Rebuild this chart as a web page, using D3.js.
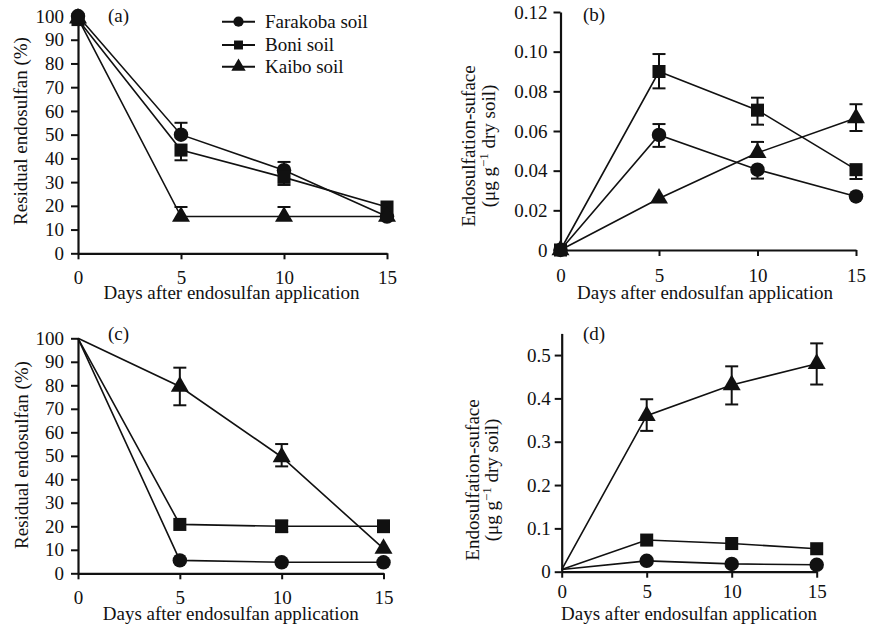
<!DOCTYPE html>
<html>
<head>
<meta charset="utf-8">
<script src="https://cdn.jsdelivr.net/npm/d3@7"></script>
<style>
  body { margin: 0; background: #fff; }
  svg { display: block; }
  text { font-family: "Liberation Serif", "Times New Roman", serif; fill: #111; }
</style>
</head>
<body>
<svg id="chart" width="870" height="628"></svg>
<script>
// ---------------- DATA ----------------
const days = [0, 5, 10, 15];
const seriesNames = ["Farakoba soil", "Boni soil", "Kaibo soil"];
const xTicks = [0, 5, 10, 15];

// Panel (a): residual endosulfan (%)
const aFarakoba = [100, 50, 35, 15.5];
const aFarakobaErrHi = [0, 5, 3.5, 0];
const aFarakobaErrLo = [0, 0, 0, 0];
const aBoni = [98.5, 43.5, 32, 19.5];
const aBoniErrHi = [0, 0, 0, 0];
const aBoniErrLo = [0, 4.3, 3.2, 0];
const aKaibo = [99, 15.5, 15.5, 15.5];
const aKaiboErrHi = [0, 4, 4, 0];
const aKaiboErrLo = [0, 0, 0, 0];
const aYTicks = [0, 10, 20, 30, 40, 50, 60, 70, 80, 90, 100];

// Panel (b): endosulfan-sulfate (µg/g dry soil)
const bFarakoba = [0, 0.058, 0.0405, 0.027];
const bFarakobaErrHi = [0, 0.0055, 0, 0];
const bFarakobaErrLo = [0, 0.006, 0.0045, 0];
const bBoni = [0, 0.09, 0.0705, 0.0405];
const bBoniErrHi = [0, 0.0088, 0.0063, 0];
const bBoniErrLo = [0, 0.0085, 0.0073, 0.0047];
const bKaibo = [0, 0.026, 0.049, 0.0665];
const bKaiboErrHi = [0, 0, 0.0055, 0.007];
const bKaiboErrLo = [0, 0, 0, 0.0065];
const bYTicks = [0, 0.02, 0.04, 0.06, 0.08, 0.10, 0.12];
const bYTickLabels = ["0", "0.02", "0.04", "0.06", "0.08", "0.10", "0.12"];

// Panel (c): residual endosulfan (%)
const cFarakoba = [100, 5.5, 4.7, 4.7];
const cFarakobaErrHi = [0, 0, 0, 0];
const cFarakobaErrLo = [0, 0, 0, 0];
const cBoni = [100, 20.8, 20, 20];
const cBoniErrHi = [0, 0, 2.5, 2.5];
const cBoniErrLo = [0, 0, 2.5, 2.5];
const cKaibo = [100, 79.5, 49.5, 10.5];
const cKaiboErrHi = [0, 8, 5.5, 0];
const cKaiboErrLo = [0, 8, 4, 0];
const cYTicks = [0, 10, 20, 30, 40, 50, 60, 70, 80, 90, 100];

// Panel (d): endosulfan-sulfate (µg/g dry soil)
const dFarakoba = [0.005, 0.025, 0.018, 0.016];
const dFarakobaErrHi = [0, 0, 0, 0];
const dFarakobaErrLo = [0, 0, 0, 0];
const dBoni = [0.005, 0.073, 0.065, 0.053];
const dBoniErrHi = [0, 0, 0, 0];
const dBoniErrLo = [0, 0, 0, 0];
const dKaibo = [0.005, 0.36, 0.431, 0.48];
const dKaiboErrHi = [0, 0.038, 0.043, 0.047];
const dKaiboErrLo = [0, 0.035, 0.045, 0.048];
const dYTicks = [0, 0.1, 0.2, 0.3, 0.4, 0.5];
const dYTickLabels = ["0", "0.1", "0.2", "0.3", "0.4", "0.5"];

const xLabel = "Days after endosulfan application";
const yLabelResidual = "Residual endosulfan (%)";
const yLabelSulfate1 = "Endosulfation-suface";

// ---------------- LAYOUT ----------------
const svg = d3.select("#chart");
const FS = 19;
const symbols = [d3.symbolCircle, d3.symbolSquare, d3.symbolTriangle];
const symSizes = [165, 170, 140];
const legSizes = [82, 80, 90];

const panels = [
  { tag: "(a)", tagX: 108, tagY: 22, startMarker: true,
    x: [78, 387], y: [253.3, 16], yDom: [0, 100], yTicks: aYTicks, yTickLabels: aYTicks.map(String),
    xPad: 11.5, yPad: 7,
    data: [[aFarakoba, aFarakobaErrLo, aFarakobaErrHi], [aBoni, aBoniErrLo, aBoniErrHi], [aKaibo, aKaiboErrLo, aKaiboErrHi]],
    xl: [231.5, 298.5], yl: { lines: [yLabelResidual], xs: [27], cy: 131 } },
  { tag: "(b)", tagX: 583, tagY: 21, startMarker: true,
    x: [560.5, 856], y: [250, 12], yDom: [0, 0.12], yTicks: bYTicks, yTickLabels: bYTickLabels,
    xPad: 13, yPad: 6,
    data: [[bFarakoba, bFarakobaErrLo, bFarakobaErrHi], [bBoni, bBoniErrLo, bBoniErrHi], [bKaibo, bKaiboErrLo, bKaiboErrHi]],
    xl: [705, 298.5], yl: { lines: [yLabelSulfate1, "unit"], xs: [474.5, 495], cy: 146 } },
  { tag: "(c)", tagX: 108, tagY: 340, startMarker: false,
    x: [78, 383.5], y: [573.3, 338.3], yDom: [0, 100], yTicks: cYTicks, yTickLabels: cYTicks.map(String),
    xPad: 11, yPad: 7,
    data: [[cFarakoba, cFarakobaErrLo, cFarakobaErrHi], [cBoni, cBoniErrLo, cBoniErrHi], [cKaibo, cKaiboErrLo, cKaiboErrHi]],
    xl: [230.7, 620], yl: { lines: [yLabelResidual], xs: [28], cy: 455 } },
  { tag: "(d)", tagX: 583, tagY: 340, startMarker: false,
    x: [561.7, 816.7], y: [571.7, 333.4], yDom: [0, 0.55], yTicks: dYTicks, yTickLabels: dYTickLabels,
    xPad: 7, yPad: 4,
    data: [[dFarakoba, dFarakobaErrLo, dFarakobaErrHi], [dBoni, dBoniErrLo, dBoniErrHi], [dKaibo, dKaiboErrLo, dKaiboErrHi]],
    xl: [689, 620], yl: { lines: [yLabelSulfate1, "unit"], xs: [478.5, 498], cy: 480 } }
];

panels.forEach(p => {
  const g = svg.append("g");
  const x = d3.scaleLinear().domain([0, 15]).range(p.x);
  const y = d3.scaleLinear().domain(p.yDom).range(p.y);

  // axes
  const xa = g.append("g").attr("transform", `translate(0,${p.y[0]})`)
    .call(d3.axisBottom(x).tickValues(xTicks).tickSize(6).tickSizeOuter(0).tickPadding(p.xPad));
  const ya = g.append("g").attr("transform", `translate(${p.x[0]},0)`)
    .call(d3.axisLeft(y).tickValues(p.yTicks).tickFormat((d, i) => p.yTickLabels[i]).tickSize(7).tickSizeOuter(0).tickPadding(p.yPad));
  [xa, ya].forEach(a => {
    a.attr("font-family", null);
    a.select(".domain").attr("stroke", "#111").attr("stroke-width", 2.2);
    a.selectAll(".tick line").attr("stroke", "#111").attr("stroke-width", 2);
    a.selectAll(".tick text").attr("font-size", FS).attr("fill", "#111");
  });

  // x label
  g.append("text").attr("x", p.xl[0]).attr("y", p.xl[1]).attr("text-anchor", "middle")
    .attr("font-size", FS).text(xLabel);

  // y label
  p.yl.lines.forEach((ln, i) => {
    const t = g.append("text")
      .attr("transform", `translate(${p.yl.xs[i]},${p.yl.cy}) rotate(-90)`)
      .attr("text-anchor", "middle").attr("font-size", FS);
    if (ln === "unit") {
      t.append("tspan").text("(μg g");
      t.append("tspan").attr("dy", -7).attr("font-size", 13).text("−1");
      t.append("tspan").attr("dy", 7).text(" dry soil)");
    } else {
      t.text(ln);
    }
  });

  // panel tag
  g.append("text").attr("x", p.tagX).attr("y", p.tagY).attr("font-size", FS).text(p.tag);

  const line = d3.line().x((d, i) => x(days[i])).y(d => y(d));

  p.data.forEach(([vals, lo, hi], s) => {
    // error bars
    vals.forEach((v, i) => {
      const cx = x(days[i]);
      if (hi[i] > 0) {
        g.append("line").attr("x1", cx).attr("x2", cx).attr("y1", y(v)).attr("y2", y(v + hi[i]))
          .attr("stroke", "#111").attr("stroke-width", 2);
        g.append("line").attr("x1", cx - 6.5).attr("x2", cx + 6.5).attr("y1", y(v + hi[i])).attr("y2", y(v + hi[i]))
          .attr("stroke", "#111").attr("stroke-width", 2);
      }
      if (lo[i] > 0) {
        g.append("line").attr("x1", cx).attr("x2", cx).attr("y1", y(v)).attr("y2", y(v - lo[i]))
          .attr("stroke", "#111").attr("stroke-width", 2);
        g.append("line").attr("x1", cx - 6.5).attr("x2", cx + 6.5).attr("y1", y(v - lo[i])).attr("y2", y(v - lo[i]))
          .attr("stroke", "#111").attr("stroke-width", 2);
      }
    });
    // line
    g.append("path").datum(vals).attr("d", line)
      .attr("fill", "none").attr("stroke", "#111").attr("stroke-width", 1.6);
  });
  // markers on top
  p.data.forEach(([vals], s) => {
    const pts = vals.map((v, i) => ({ v, i })).filter(d => p.startMarker || d.i > 0);
    g.selectAll(null).data(pts).enter().append("path")
      .attr("transform", d => `translate(${x(days[d.i])},${y(d.v)})`)
      .attr("d", d3.symbol().type(symbols[s]).size(symSizes[s]))
      .attr("fill", "#111");
  });
});

// ---------------- LEGEND ----------------
const legY = [21.7, 45, 66.7];
const leg = svg.append("g");
seriesNames.forEach((name, i) => {
  leg.append("line").attr("x1", 222).attr("x2", 255).attr("y1", legY[i]).attr("y2", legY[i])
    .attr("stroke", "#111").attr("stroke-width", 2);
  leg.append("path").attr("transform", `translate(238.5,${legY[i]})`)
    .attr("d", d3.symbol().type(symbols[i]).size(legSizes[i])).attr("fill", "#111");
  leg.append("text").attr("x", 265).attr("y", legY[i] + 6.3).attr("font-size", FS).text(name);
});
</script>
</body>
</html>
